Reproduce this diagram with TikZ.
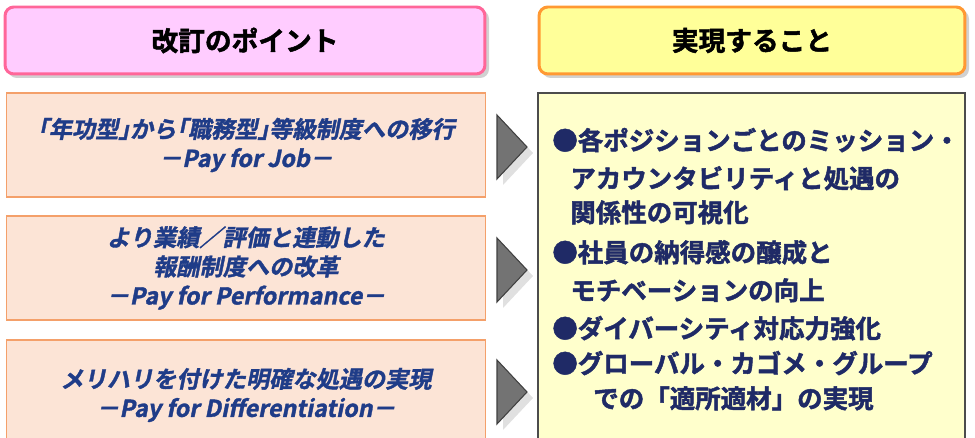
\documentclass[tikz,border=0pt]{standalone}
\usepackage{fontspec}
\setmainfont{Noto Sans CJK JP}
\newfontfamily\pointfont{Noto Sans CJK JP Bold}[FakeSlant=0.2,FakeBold=1.5]
\newfontfamily\heavyfont{Noto Sans CJK JP Bold}[FakeBold=1.8]
\usetikzlibrary{positioning}
\definecolor{pinkfill}{HTML}{FFCCFF}
\definecolor{pinkline}{HTML}{FF6699}
\definecolor{yellowfill}{HTML}{FFFF99}
\definecolor{orangeline}{HTML}{FF9933}
\definecolor{peachfill}{HTML}{FCE4D6}
\definecolor{peachline}{HTML}{F4A06A}
\definecolor{paleyellow}{HTML}{FFFFCC}
\definecolor{navytext}{HTML}{1F2A66}
\definecolor{bluetext}{HTML}{1F3C88}
\begin{document}
\begin{tikzpicture}[x=0.02cm,y=-0.02cm]
        % Styles
        \tikzstyle{header}=[rounded corners=5pt,line width=1.7pt,inner sep=0pt,
            minimum height=1.34cm,font=\heavyfont\fontsize{15.2}{18}\selectfont]
        \tikzstyle{header shadow}=[rounded corners=5pt,fill=black!18]
        \tikzstyle{point box}=[draw=peachline,fill=peachfill,line width=0.6pt,inner sep=0pt,
            minimum width=9.6cm,align=center,text=bluetext,
            font=\pointfont\fontsize{13.2}{16.6}\selectfont]
        \tikzstyle{real line}=[anchor=base west,inner sep=0pt,text=navytext,
            font=\heavyfont\fontsize{14.5}{18}\selectfont]
        \tikzstyle{arrow head}=[fill=black!55,draw=black!75,line width=0.6pt,line join=miter]
        \tikzstyle{arrow shadow}=[fill=black!12]
        \useasboundingbox (0,0) rectangle (975,438);
        \clip (0,0) rectangle (975,438);
        %headers
        \fill[style=header shadow] (8,10) rectangle (489,78);
        \fill[style=header shadow] (542,10) rectangle (969,78);
        \node[header,draw=pinkline,fill=pinkfill,minimum width=9.6cm] (point head) at (245,40.5) {改訂のポイント};
        \node[header,draw=orangeline,fill=yellowfill,minimum width=8.52cm] (real head) at (752,40.5) {実現すること};
        %left boxes
        \node[point box,minimum height=2.08cm] (job) at (246,145)
            {｢年功型｣から｢職務型｣等級制度への移行\\－Pay for Job－};
        \node[point box,minimum height=2.08cm] (performance) at (246,268)
            {より業績／評価と連動した\\報酬制度への改革\\－Pay for Performance－};
        \node[point box,minimum height=2.2cm] (differ) at (246,395)
            {メリハリを付けた明確な処遇の実現\\－Pay for Differentiation－};
        %arrows
        \foreach \ty in {115,238,360} {
            \fill[style=arrow shadow] (503,\ty+6) -- (533,\ty+38) -- (503,\ty+70) -- cycle;
            \draw[style=arrow head] (497,\ty) -- (527,\ty+32) -- (497,\ty+64) -- cycle;
        }
        %right box
        \draw[fill=paleyellow,draw=black!70,line width=0.6pt] (538,93) rectangle (965,460);
        \foreach \lx/\ly/\ltxt [count=\i] in {
            552/150/{●各ポジションごとのミッション・},
            570/188/{アカウンタビリティと処遇の},
            570/222/{関係性の可視化},
            552/262/{●社員の納得感の醸成と},
            570/300/{モチベーションの向上},
            552/338/{●ダイバーシティ対応力強化},
            552/373/{●グローバル・カゴメ・グループ},
            593/408/{での「適所適材」の実現}}
            \node[real line] (real\i) at (\lx,\ly) {\ltxt};
\end{tikzpicture}
\end{document}
